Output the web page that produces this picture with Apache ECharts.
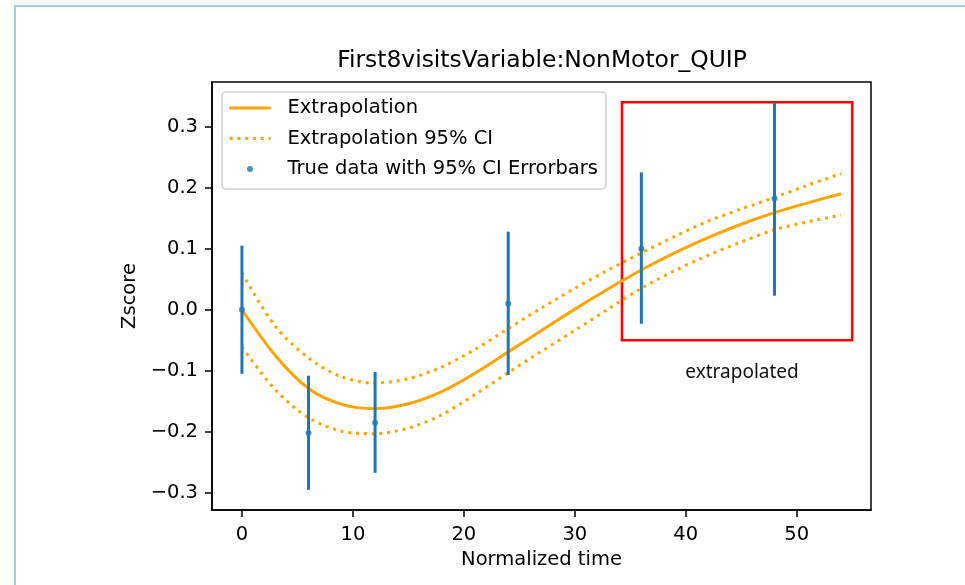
<!DOCTYPE html>
<html>
<head>
<meta charset="utf-8">
<script src="https://cdn.jsdelivr.net/npm/echarts@6/dist/echarts.min.js"></script>
<style>
  html, body { margin: 0; padding: 0; background: #fff; }
  #frame {
    position: absolute; left: 14px; top: 5px; right: -10px; bottom: -10px;
    border-left: 2px solid #a9c9dc; border-top: 2px solid #a9c9dc;
  }
  #main { position: absolute; left: 0; top: 0; width: 965px; height: 585px; }
</style>
</head>
<body>
<div id="frame"></div>
<div id="main"></div>
<script>
// fitted curve + 95% CI
const fitX = [0, 3, 6, 9, 12, 15, 18, 21, 24, 27, 30, 33, 36, 39, 42, 45, 48, 51, 54];
const fitY = [0.0, -0.075, -0.129, -0.155, -0.162, -0.154, -0.134, -0.104, -0.069, -0.034, 0.001, 0.034, 0.065, 0.093, 0.118, 0.14, 0.159, 0.175, 0.19];
const ciUpper = [0.06, -0.027, -0.079, -0.110, -0.12, -0.113, -0.094, -0.065, -0.031, 0.003, 0.035, 0.065, 0.093, 0.12, 0.145, 0.165, 0.184, 0.204, 0.223];
const ciLower = [-0.061, -0.131, -0.177, -0.199, -0.203, -0.194, -0.172, -0.139, -0.103, -0.068, -0.034, 0.001, 0.035, 0.064, 0.089, 0.111, 0.131, 0.144, 0.155];

// true data with error bars
const visitX = [0, 6, 12, 24, 36, 48];
const visitMean = [0.0, -0.202, -0.185, 0.01, 0.1, 0.182];
const visitLow = [-0.105, -0.295, -0.267, -0.107, -0.023, 0.023];
const visitHigh = [0.105, -0.108, -0.102, 0.128, 0.225, 0.34];

const xTicks = [0, 10, 20, 30, 40, 50];
const yTicks = [-0.3, -0.2, -0.1, 0.0, 0.1, 0.2, 0.3];

// extrapolated region box [x0, y0, x1, y1]
const boxRange = [34.25, -0.05, 55.0, 0.34];

const ORANGE = '#ffa500';
const BLUE = '#1f77b4';
const FONT = 'DejaVu Sans';

const zip = (a, b) => a.map((v, i) => [v, b[i]]);
const minusFmt = v => v.toFixed(1).replace('-', '\u2212');

const chart = echarts.init(document.getElementById('main'), null, { renderer: 'canvas' });

const option = {
  animation: false,
  title: {
    text: 'First8visitsVariable:NonMotor_QUIP',
    left: 542, top: 49, padding: 0, textAlign: 'center',
    textStyle: { fontFamily: FONT, fontSize: 23.4, fontWeight: 'normal', color: '#000' }
  },
  grid: {
    left: 212, top: 82, width: 659, height: 428,
    show: true, borderColor: '#000', borderWidth: 1.5, backgroundColor: 'transparent'
  },
  legend: {
    orient: 'vertical', left: 222, top: 92,
    padding: [6, 8, 10, 6],
    itemWidth: 41, itemHeight: 6, itemGap: 10.5,
    backgroundColor: '#fff', borderColor: '#d0d0d0', borderWidth: 1.5, borderRadius: 4,
    lineStyle: { width: 3 },
    textStyle: { fontFamily: FONT, fontSize: 19.5, color: '#000', padding: [0, 0, 0, 12] },
    data: [
      { name: 'Extrapolation', itemStyle: { opacity: 0 } },
      { name: 'Extrapolation 95% CI', itemStyle: { opacity: 0 } },
      { name: 'True data with 95% CI Errorbars', icon: 'circle' }
    ]
  },
  xAxis: {
    type: 'value', min: -2.7, max: 56.7,
    name: 'Normalized time', nameLocation: 'middle', nameGap: 39,
    nameTextStyle: { fontFamily: FONT, fontSize: 19.5, color: '#000' },
    axisLine: { show: true, onZero: false, lineStyle: { color: '#000', width: 1.5 } },
    axisTick: { show: true, inside: false, length: 7, lineStyle: { color: '#000', width: 1.5 }, customValues: xTicks },
    axisLabel: { margin: 15, fontFamily: FONT, fontSize: 19.5, color: '#000', customValues: xTicks, formatter: v => String(v) },
    splitLine: { show: false }
  },
  yAxis: {
    type: 'value', min: -0.328, max: 0.373,
    name: 'Zscore', nameLocation: 'middle', nameGap: 67,
    nameTextStyle: { fontFamily: FONT, fontSize: 19.5, color: '#000' },
    axisLine: { show: true, onZero: false, lineStyle: { color: '#000', width: 1.5 } },
    axisTick: { show: true, inside: false, length: 7, lineStyle: { color: '#000', width: 1.5 }, customValues: yTicks },
    axisLabel: { margin: 14, fontFamily: FONT, fontSize: 19.5, color: '#000', customValues: yTicks, formatter: minusFmt },
    splitLine: { show: false }
  },
  series: [
    {
      name: 'Extrapolation', type: 'line', data: zip(fitX, fitY),
      symbol: 'none', smooth: 0.3, z: 3,
      lineStyle: { color: ORANGE, width: 3 }, itemStyle: { color: ORANGE }
    },
    {
      name: 'Extrapolation 95% CI', type: 'line', data: zip(fitX, ciUpper),
      symbol: 'none', smooth: 0.3, z: 3,
      lineStyle: { color: ORANGE, width: 3, type: [3, 4.8], cap: 'butt' }, itemStyle: { color: ORANGE }
    },
    {
      name: 'Extrapolation 95% CI', type: 'line', data: zip(fitX, ciLower),
      symbol: 'none', smooth: 0.3, z: 3,
      lineStyle: { color: ORANGE, width: 3, type: [3, 4.8], cap: 'butt' }, itemStyle: { color: ORANGE }
    },
    {
      name: 'errorbars', type: 'custom', z: 4,
      data: visitX.map((x, i) => [x, visitLow[i], visitHigh[i]]),
      encode: { x: 0, y: [1, 2] },
      renderItem: (params, api) => {
        const p0 = api.coord([api.value(0), api.value(1)]);
        const p1 = api.coord([api.value(0), api.value(2)]);
        return {
          type: 'line',
          shape: { x1: p0[0], y1: p0[1], x2: p1[0], y2: p1[1] },
          style: { stroke: BLUE, lineWidth: 3 }
        };
      }
    },
    {
      name: 'True data with 95% CI Errorbars', type: 'scatter', z: 5,
      data: zip(visitX, visitMean), symbolSize: 6,
      itemStyle: { color: BLUE }
    },
    {
      name: 'box', type: 'line', data: [], z: 6,
      markArea: {
        silent: true,
        itemStyle: { color: 'rgba(0,0,0,0)', borderColor: '#ff0000', borderWidth: 2.5 },
        label: {
          show: true, position: 'bottom', distance: 22, offset: [5, 0],
          fontFamily: 'Noto Sans', fontSize: 19, color: '#111'
        },
        data: [[
          { name: 'extrapolated', coord: [boxRange[0], boxRange[1]] },
          { coord: [boxRange[2], boxRange[3]] }
        ]]
      }
    }
  ]
};

chart.setOption(option);
</script>
</body>
</html>
